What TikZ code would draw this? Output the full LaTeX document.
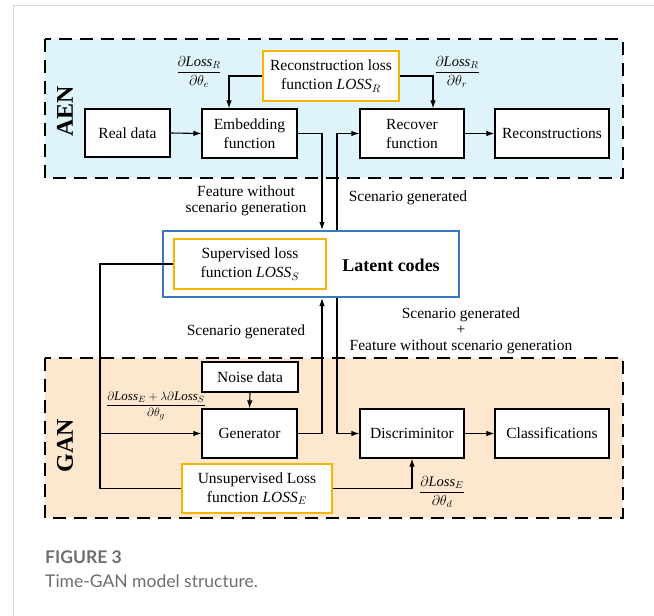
\documentclass[tikz,border=0pt]{standalone}
\usepackage{amsmath}
\usepackage{fontspec}
\setmainfont{Liberation Serif}
\newfontfamily\capfont{Lato}
\usetikzlibrary{arrows.meta}
\definecolor{aenfill}{HTML}{DFF3FB}
\definecolor{ganfill}{HTML}{FDE8CF}
\definecolor{lossedge}{HTML}{F7B500}
\definecolor{latentedge}{HTML}{3B78C2}
\definecolor{framegray}{HTML}{D9D9D9}
\definecolor{capgray}{HTML}{6E6E6E}
\tikzset{
  blk/.style={draw=black, line width=1.2pt, fill=white, align=center, inner sep=0pt,
    font=\fontsize{15.5}{19}\selectfont},
  lossbox/.style={blk, draw=lossedge, line width=2.8pt},
  region/.style={draw=black, line width=2.2pt, dash pattern=on 13pt off 8pt},
  arr/.style={-{Latex[length=8pt,width=5.5pt]}, line width=1.1pt},
  wire/.style={line width=1.1pt},
  lbl/.style={align=center, inner sep=0pt, font=\fontsize{15.5}{16}\selectfont},
  grad/.style={inner sep=0pt, font=\fontsize{14.5}{16}\selectfont},
  tag/.style={rotate=90, inner sep=0pt, font=\fontsize{24}{24}\selectfont\bfseries}
}
\begin{document}
\begin{tikzpicture}[x=1pt,y=-1pt]
\useasboundingbox (0,0) rectangle (654,616);
% page frame
\draw[framegray, line width=1pt] (13,616) -- (13,5) -- (654,5);

% module regions
\fill[aenfill] (45,39) rectangle (623,178);
\fill[ganfill] (45,358) rectangle (623,518);
\draw[region] (45,39) rectangle (623,178);
\draw[region] (45,358) rectangle (623,518);
\node[tag] (aen) at (65,111) {AEN};
\node[tag] (gan) at (65,446) {GAN};

% AEN blocks
\node[blk, minimum width=85pt, minimum height=48pt] (real) at (127.5,133) {Real data};
\node[blk, minimum width=95pt, minimum height=49pt] (embed) at (249.5,133.5) {Embedding\\function};
\node[lossbox, minimum width=136pt, minimum height=50pt] (recloss) at (331,76) {Reconstruction loss\\function \textit{LOSS}$_R$};
\node[blk, minimum width=104pt, minimum height=49pt] (recover) at (412,133.5) {Recover\\function};
\node[blk, minimum width=114pt, minimum height=49pt] (recon) at (552,133.5) {Reconstructions};

% latent space
\node[draw=latentedge, line width=2pt, minimum width=296pt, minimum height=66pt, inner sep=0pt] (latent) at (311,264) {};
\node[lossbox, minimum width=152pt, minimum height=50pt] (suploss) at (250,264) {Supervised loss\\function \textit{LOSS}$_S$};
\node[inner sep=0pt, font=\fontsize{18}{20}\selectfont\bfseries] (latentlbl) at (391,265) {Latent codes};

% GAN blocks
\node[blk, minimum width=96pt, minimum height=30pt] (noise) at (250,377) {Noise data};
\node[blk, minimum width=95pt, minimum height=49pt] (gen) at (249.5,433.5) {Generator};
\node[lossbox, minimum width=150pt, minimum height=49pt] (unsup) at (257,488.5) {Unsupervised Loss\\function \textit{LOSS}$_E$};
\node[blk, minimum width=104pt, minimum height=49pt] (disc) at (412,433.5) {Discriminitor};
\node[blk, minimum width=114pt, minimum height=49pt] (cls) at (552,433.5) {Classifications};

% vertical bus positions
\coordinate (xa) at (322,0);
\coordinate (xb) at (337,0);
\coordinate (xl) at (100,0);

% AEN connectors
\draw[arr] (real.east) -- (embed.west);
\draw[arr] (recloss.west) -| ([xshift=-20.5pt]embed.north);
\draw[arr] (recloss.east) -| ([xshift=21pt]recover.north);
\draw[arr] (recover.east) -- (recon.west);
\draw[arr] (embed.east) -| (xa |- latent.north);
\draw[arr] (xb |- latent.north) |- (recover.west);

% GAN connectors
\draw[arr] (noise.south) -- (gen.north);
\draw[arr] (gen.east) -| (xa |- latent.south);
\draw[arr] (xb |- latent.south) |- (disc.west);
\draw[arr] (disc.east) -- (cls.west);
\draw[arr] (unsup.east) -| (disc.south);
\draw[wire] (suploss.west) -| (xl |- unsup.west) -- (unsup.west);
\draw[arr] (xl |- gen.west) -- (gen.west);

% gradient labels
\node[grad] (gre) at (199,72) {$\dfrac{\partial\textit{Loss}_R}{\partial\theta_e}$};
\node[grad] (grr) at (457,72) {$\dfrac{\partial\textit{Loss}_R}{\partial\theta_r}$};
\node[grad, font=\fontsize{13}{15}\selectfont] (grg) at (156,406) {$\dfrac{\partial\textit{Loss}_E+\lambda\partial\textit{Loss}_S}{\partial\theta_g}$};
\node[grad] (grd) at (442,492) {$\dfrac{\partial\textit{Loss}_E}{\partial\theta_d}$};

% flow labels
\node[lbl] (fw) at (246,201) {Feature without\\scenario generation};
\node[lbl] (sg1) at (408,198) {Scenario generated};
\node[lbl] (sg2) at (246,332) {Scenario generated};
\node[lbl] (sgf) at (461,331) {Scenario generated\\+\\Feature without scenario generation};

% caption
\node[anchor=base west, inner sep=0pt, text=capgray, font=\capfont\fontsize{17.5}{20}\selectfont\bfseries] (capt) at (45,563) {FIGURE 3};
\node[anchor=base west, inner sep=0pt, text=capgray, font=\capfont\fontsize{17.5}{20}\selectfont] (capd) at (45,587) {Time-GAN model structure.};
\end{tikzpicture}
\end{document}
